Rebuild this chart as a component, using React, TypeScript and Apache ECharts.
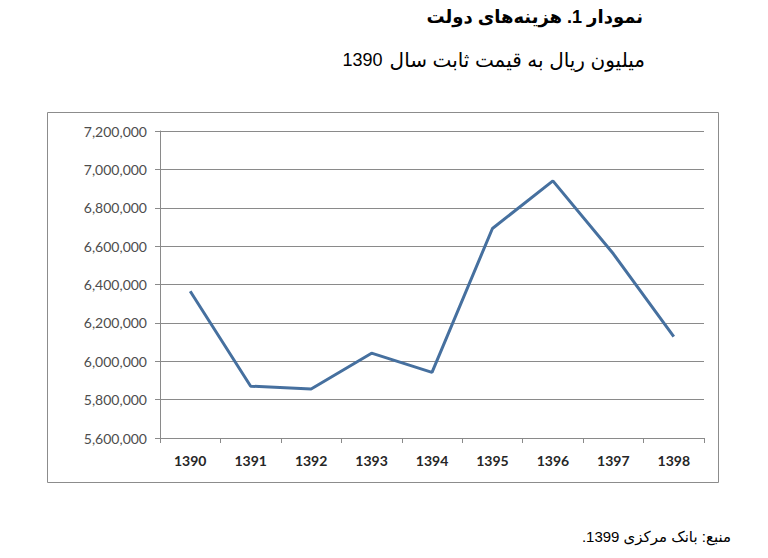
import React, { useEffect, useRef } from "react";
import * as echarts from "echarts";

const categories = ["1390", "1391", "1392", "1393", "1394", "1395", "1396", "1397", "1398"];
const spending = [6365000, 5870000, 5855000, 6042000, 5942000, 6692000, 6940000, 6560000, 6128000];
const titleText = "نمودار 1. هزینه‌های دولت";
const subtitleWords = "میلیون ریال به قیمت ثابت سال";
const subtitleYear = "1390";
const sourceText = "منبع: بانک مرکزی 1399.";

const RLE = "\u202B";
const PDF = "\u202C";

export default function App() {
  const ref = useRef<HTMLDivElement>(null);
  useEffect(() => {
    if (!ref.current) return;
    const chart = echarts.init(ref.current, undefined, { renderer: "svg" });
    const gridColor = "#8a8a8a";
    const fam = "Arial, 'Liberation Sans', 'DejaVu Sans', sans-serif";
    chart.setOption({
      animation: false,
      backgroundColor: "#ffffff",
      grid: { left: 160, right: 64, top: 131, height: 307, containLabel: false },
      xAxis: {
        type: "category",
        data: categories,
        boundaryGap: true,
        axisLine: { show: true, lineStyle: { color: gridColor, width: 1 } },
        axisTick: { show: true, length: 5, alignWithLabel: false, lineStyle: { color: gridColor } },
        axisLabel: {
          margin: 15,
          fontFamily: "Lato, 'Open Sans', sans-serif",
          fontWeight: "bold",
          fontSize: 14,
          color: "#262626",
        },
        splitLine: { show: false },
      },
      yAxis: {
        type: "value",
        min: 5600000,
        max: 7200000,
        interval: 200000,
        axisLine: { show: true, lineStyle: { color: gridColor, width: 1 } },
        axisTick: { show: true, length: 5, inside: false, lineStyle: { color: gridColor } },
        axisLabel: {
          margin: 13,
          fontFamily: "Lato, 'Open Sans', sans-serif",
          fontSize: 14,
          color: "#4d4d4d",
          formatter: (v: number) => v.toLocaleString("en-US"),
        },
        splitLine: { show: true, lineStyle: { color: gridColor, width: 1 } },
      },
      series: [
        {
          type: "line",
          data: spending,
          symbol: "none",
          lineStyle: { color: "#46709f", width: 3 },
          itemStyle: { color: "#46709f" },
        },
      ],
      graphic: [
        {
          type: "rect",
          shape: { x: 47.5, y: 112.5, width: 671, height: 370 },
          style: { fill: "none", stroke: "#8c8c8c", lineWidth: 1 },
          z: 0,
        },
        {
          type: "text",
          x: 643,
          y: 17,
          style: {
            text: RLE + titleText + PDF,
            font: "bold 18px " + fam,
            fill: "#000000",
            textAlign: "right",
            textVerticalAlign: "middle",
          },
        },
        {
          type: "text",
          x: 645,
          y: 60,
          style: {
            text: "{n|" + subtitleYear + "}{a|" + subtitleWords + "}",
            fill: "#000000",
            textAlign: "right",
            textVerticalAlign: "middle",
            rich: {
              n: { fontFamily: fam, fontSize: 18, fill: "#000", lineHeight: 24, verticalAlign: "middle", padding: [0, 7, 0, 0] },
              a: { fontFamily: fam, fontSize: 20, fill: "#000", lineHeight: 24, verticalAlign: "middle" },
            },
          },
        },
        {
          type: "text",
          x: 731,
          y: 536,
          style: {
            text: RLE + sourceText + PDF,
            font: "15px " + fam,
            fill: "#000000",
            textAlign: "right",
            textVerticalAlign: "middle",
          },
        },
      ],
    });
    return () => chart.dispose();
  }, []);
  return (
    <div
      ref={ref}
      style={{ position: "absolute", left: 0, top: 0, width: 768, height: 558, background: "#fff" }}
    />
  );
}
